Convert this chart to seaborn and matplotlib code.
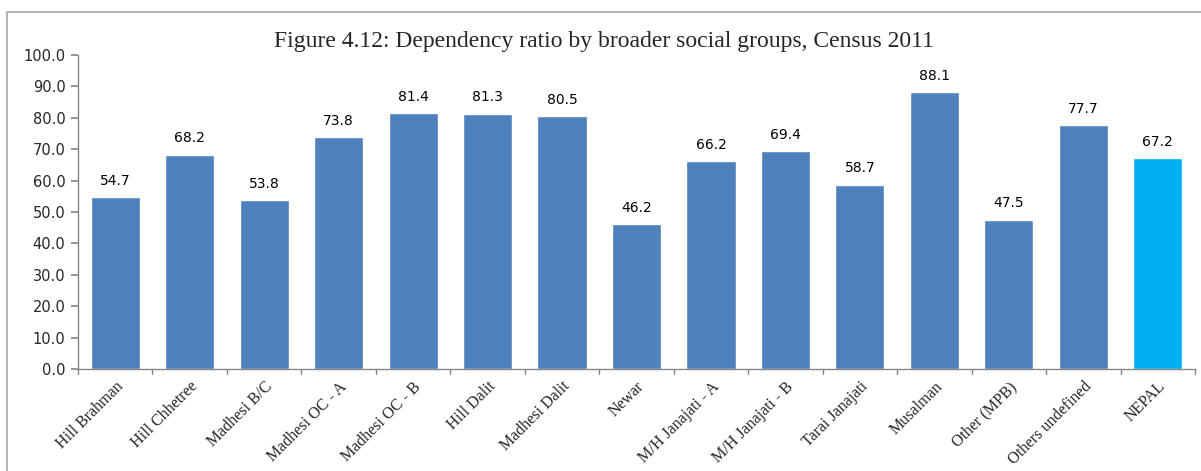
import matplotlib
matplotlib.use("Agg")
import matplotlib.pyplot as plt
import seaborn as sns
import numpy as np
import pandas as pd
from matplotlib.patches import Rectangle

categories = ["Hill Brahman", "Hill Chhetree", "Madhesi B/C", "Madhesi OC - A",
              "Madhesi OC - B", "Hill Dalit", "Madhesi Dalit", "Newar",
              "M/H Janajati - A", "M/H Janajati - B", "Tarai Janajati", "Musalman",
              "Other (MPB)", "Others undefined", "NEPAL"]
values = [54.7, 68.2, 53.8, 73.8, 81.4, 81.3, 80.5, 46.2, 66.2, 69.4, 58.7, 88.1, 47.5, 77.7, 67.2]
yticks = [0, 10, 20, 30, 40, 50, 60, 70, 80, 90, 100]
title = "Figure 4.12: Dependency ratio by broader social groups, Census 2011"

sns.set_theme(style="white")
plt.rcParams['font.family'] = ['DejaVu Sans']

colors = ["#4F81BD"] * (len(categories) - 1) + ["#00B0F0"]
df = pd.DataFrame({"cat": categories, "val": values})

fig = plt.figure(figsize=(12.01, 4.71), dpi=100)
ax = fig.add_axes([78 / 1201, 1 - 369 / 471, (1195 - 78) / 1201, (369 - 55) / 471])
sns.barplot(data=df, x="cat", y="val", hue="cat", palette=colors, legend=False,
            width=0.66, ax=ax, saturation=1)

ax.set_ylim(0, 100)
ax.set_xlim(-0.5, len(categories) - 0.5)
ax.set_yticks(yticks)
ax.set_yticklabels([f"{v:.1f}" for v in yticks], fontsize=10.5, family="DejaVu Sans")
ax.set_xticks(np.arange(len(categories)))
ax.set_xticklabels(categories, rotation=45, ha="right", rotation_mode="anchor",
                   fontsize=11.5, family="Liberation Serif")
ax.tick_params(axis="x", length=0, pad=7)
ax.tick_params(axis="y", length=5, color="#868686", direction="out", left=True, pad=4)
# boundary ticks on x axis
for b in np.arange(-0.5, len(categories), 1.0):
    ax.plot([b, b], [0, -1.6], color="#868686", lw=1, clip_on=False)
ax.set_xlabel("")
ax.set_ylabel("")
for s in ["top", "right"]:
    ax.spines[s].set_visible(False)
for s in ["left", "bottom"]:
    ax.spines[s].set_color("#868686")
    ax.spines[s].set_linewidth(1)

for i, v in enumerate(values):
    ax.text(i, v + 3, f"{v:.1f}", ha="center", va="bottom", fontsize=10,
            family="DejaVu Sans", color="#000000")

fig.text(603.5 / 1201, 1 - 41 / 471, title, ha="center", va="center", fontsize=17,
         family="Liberation Serif")

# outer frame
fig.patches.append(Rectangle((7 / 1201, -0.1), 1.2, 1 - 12 / 471 + 0.1,
                             transform=fig.transFigure, fill=False,
                             edgecolor="#A6A6A6", lw=1.2))

fig.savefig("out.png", dpi=100)
